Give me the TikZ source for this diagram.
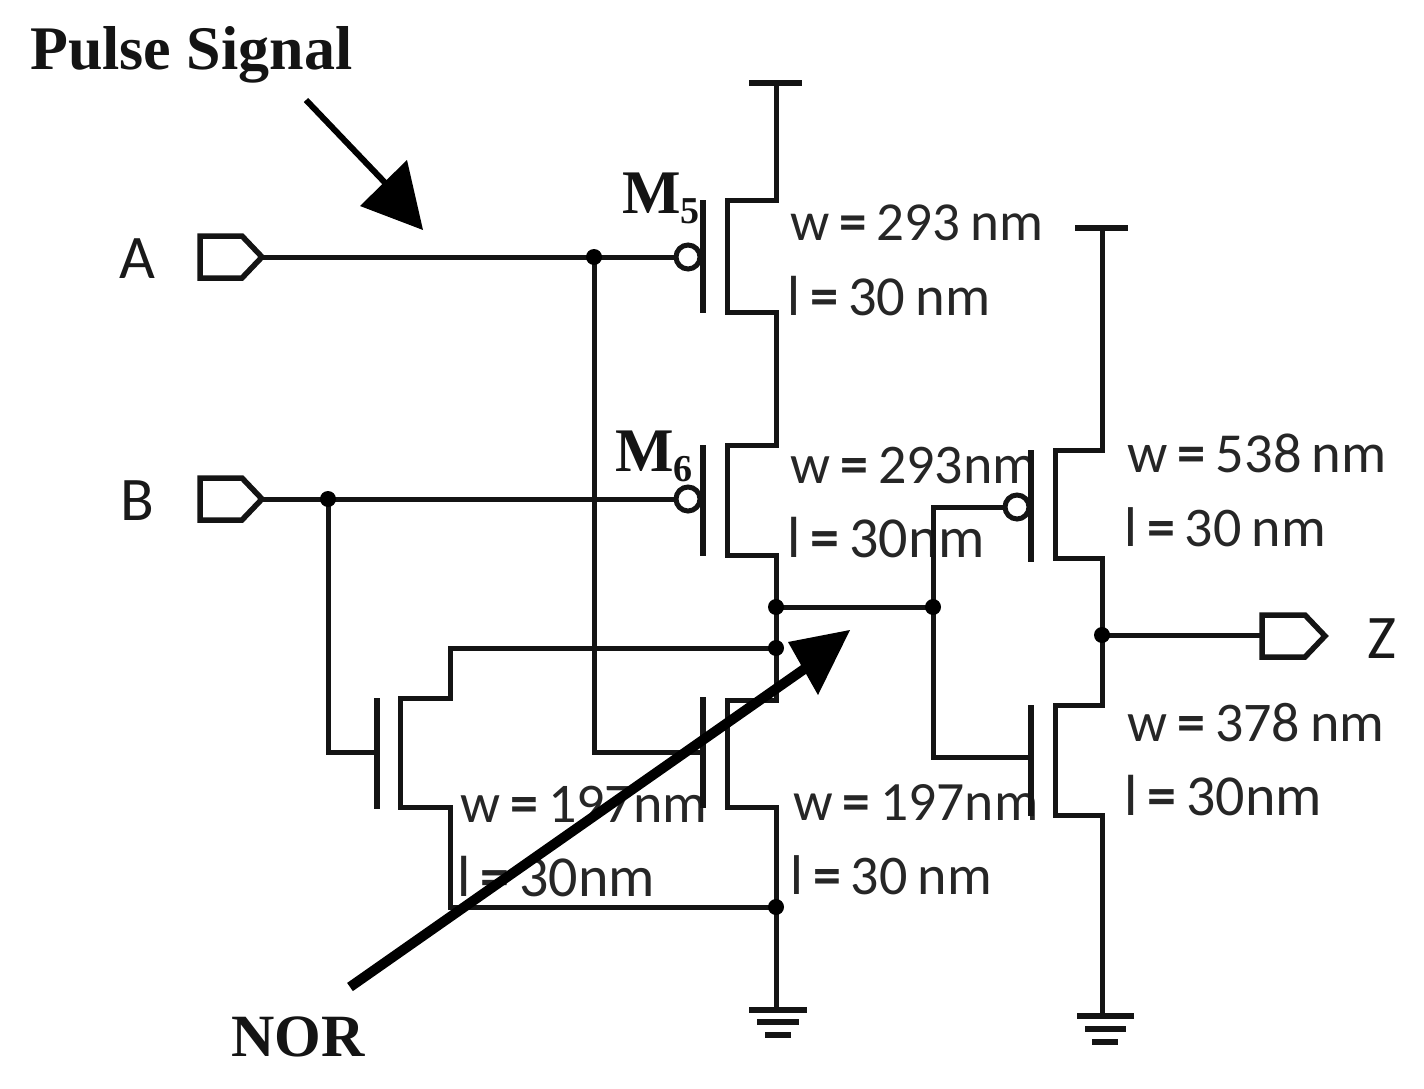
\documentclass[tikz,border=0pt]{standalone}
\usepackage{fontspec}
\setmainfont{Carlito}
\newfontfamily\serifbold{Liberation Serif}
\newcommand{\eqb}{\hspace{10pt}{\bfseries =}\hspace{10pt}}
\newcommand{\nmgap}{\hspace{10pt}}
\tikzset{
  wire/.style={line width=5pt,line join=miter,line cap=butt,draw=black!92},
  bar/.style={line width=5.5pt,draw=black!92},
  gndbar/.style={line width=6.5pt,draw=black!92},
  junct/.style={circle,fill=black,inner sep=0pt,minimum size=16pt},
  bubble/.style={circle,draw=black!92,fill=white,line width=5pt,inner sep=0pt,minimum size=24pt},
  portshape/.style={line width=5.5pt,draw=black!92,fill=white,line join=miter},
  param/.style={anchor=base west,inner sep=0pt,font=\fontsize{#1}{#1}\selectfont,text=black!85},
  param/.default=55,
  pin/.style={anchor=base west,inner sep=0pt,font=\fontsize{62}{62}\selectfont,text=black!90},
  title/.style={anchor=base west,inner sep=0pt,font=\serifbold\bfseries\fontsize{#1}{#1}\selectfont,text=black!92},
  title/.default=62,
  callout/.style={line width=10pt,draw=black},
  callouthead/.style={fill=black,draw=none}
}
\begin{document}
\begin{tikzpicture}[x=1pt,y=-1pt]
\useasboundingbox (0,0) rectangle (1424,1089);
% text first: wires and callouts lie over it
\node[param=55] (t1) at (790,240) {w\eqb 293\nmgap nm};
\node[param=56.5] (t2) at (787,315) {l\eqb 30\nmgap nm};
\node[param=56] (t3) at (790,483) {w\eqb 293nm};
\node[param=58] (t4) at (787,557) {l\eqb 30nm};
\node[param=56.5] (t5) at (1127,472) {w\eqb 538\nmgap nm};
\node[param=56] (t6) at (1124,546) {l\eqb 30\nmgap nm};
\node[param=56] (t7) at (1127,741) {w\eqb 378\nmgap nm};
\node[param=58] (t8) at (1124,815) {l\eqb 30nm};
\node[param=56] (t9) at (460,822) {w\eqb 197nm};
\node[param=58] (t10) at (457,896) {l\eqb 30nm};
\node[param=55.5] (t11) at (793,820) {w\eqb 197nm};
\node[param=56] (t12) at (790,894) {l\eqb 30\nmgap nm};
\node[pin] (pa) at (119,278) {A};
\node[pin] (pb) at (120,520) {B};
\node[pin] (pz) at (1367,658) {Z};
\node[title] (ps) at (30,70) {Pulse Signal};
\node[title=60] (nor) at (231,1056) {NOR};
\node[title] (m5) at (622,213) {M\raisebox{-10pt}{\fontsize{38}{38}\selectfont 5}};
\node[title] (m6) at (615,471) {M\raisebox{-10pt}{\fontsize{38}{38}\selectfont 6}};
% named points
\coordinate (vddA) at (776,83);
\coordinate (vddB) at (1102,228);
\coordinate (gndA) at (776,1010);
\coordinate (gndB) at (1104,1016);
\coordinate (portA) at (262,257);
\coordinate (portB) at (262,499);
\coordinate (portZ) at (1262,635);
\coordinate (gn1) at (377,752);
\coordinate (gn2) at (703,752);
\coordinate (gn3) at (1031,757);
\coordinate (n1) at (776,607);
\coordinate (n2) at (776,648);
\coordinate (n3) at (776,907);
\coordinate (n4) at (933,607);
\coordinate (nZ) at (1102,635);
\coordinate (nA) at (594,257);
\coordinate (nB) at (328,499);
\coordinate (b5c) at (688,257);
\coordinate (b6c) at (688,499);
\coordinate (bpc) at (1017,507);
% pull-up / pull-down stack
\draw[bar] (749,83) -- (802,83);
\draw[wire] (vddA) -- (776,200) -- (727,200) -- (727,312) -- (776,312) -- (776,445) -- (727,445) -- (727,555) -- (776,555) -- (n1) -- (n2) -- (776,700) -- (727,700) -- (727,807) -- (776,807) -- (n3) -- (gndA);
\draw[bar] (703,200) -- (703,313);
\draw[bar] (703,445) -- (703,556);
\draw[bar] (703,697) -- (703,808);
% left nmos
\draw[bar] (377,698) -- (377,809);
\draw[wire] (n2) -- (450,648) -- (450,698) -- (400,698) -- (400,807) -- (450,807) -- (450,907) -- (n3);
% inputs
\draw[wire] (portA) -- (b5c);
\draw[wire] (portB) -- (b6c);
\draw[wire] (nA) -- (594,752) -- (gn2);
\draw[wire] (nB) -- (328,752) -- (gn1);
% inverter
\draw[wire] (n1) -- (n4);
\draw[wire] (bpc) -- (933,507) -- (n4) -- (933,757) -- (gn3);
\draw[bar] (1031,450) -- (1031,562);
\draw[bar] (1031,705) -- (1031,816);
\draw[bar] (1075,228) -- (1128,228);
\draw[wire] (vddB) -- (1102,450) -- (1055,450) -- (1055,558) -- (1102,558) -- (nZ) -- (1102,705) -- (1055,705) -- (1055,815) -- (1102,815) -- (1102,1016);
\draw[wire] (nZ) -- (portZ);
% ports
\draw[portshape] (200,236) -- (242,236) -- (262,257) -- (242,278) -- (200,278) -- cycle;
\draw[portshape] (200,478) -- (242,478) -- (262,499) -- (242,520) -- (200,520) -- cycle;
\draw[portshape] (1262,615) -- (1305,615) -- (1325,636) -- (1305,657) -- (1262,657) -- cycle;
% grounds
\draw[gndbar] (749,1010) -- (807,1010);
\draw[gndbar] (757,1022) -- (799,1022);
\draw[gndbar] (765,1035) -- (791,1035);
\draw[gndbar] (1077,1016) -- (1134,1016);
\draw[gndbar] (1085,1029) -- (1126,1029);
\draw[gndbar] (1092,1042) -- (1118,1042);
% junctions and inversion bubbles
\node[junct] at (n1) {};
\node[junct] at (n2) {};
\node[junct] at (n3) {};
\node[junct] at (n4) {};
\node[junct] at (nZ) {};
\node[junct] at (nA) {};
\node[junct] at (nB) {};
\node[bubble] at (b5c) {};
\node[bubble] at (b6c) {};
\node[bubble] at (bpc) {};
% callouts
\coordinate (c1s) at (306,100);
\coordinate (c1e) at (392,190);
\coordinate (c2s) at (350,987);
\coordinate (c2e) at (810,665);
\draw[line width=6pt] (c1s) -- (c1e);
\fill[callouthead] (423,230) -- (360,206) -- (407,160) -- cycle;
\draw[callout] (c2s) -- (c2e);
\fill[callouthead] (850,630) -- (788,642) -- (818,695) -- cycle;
\end{tikzpicture}
\end{document}
